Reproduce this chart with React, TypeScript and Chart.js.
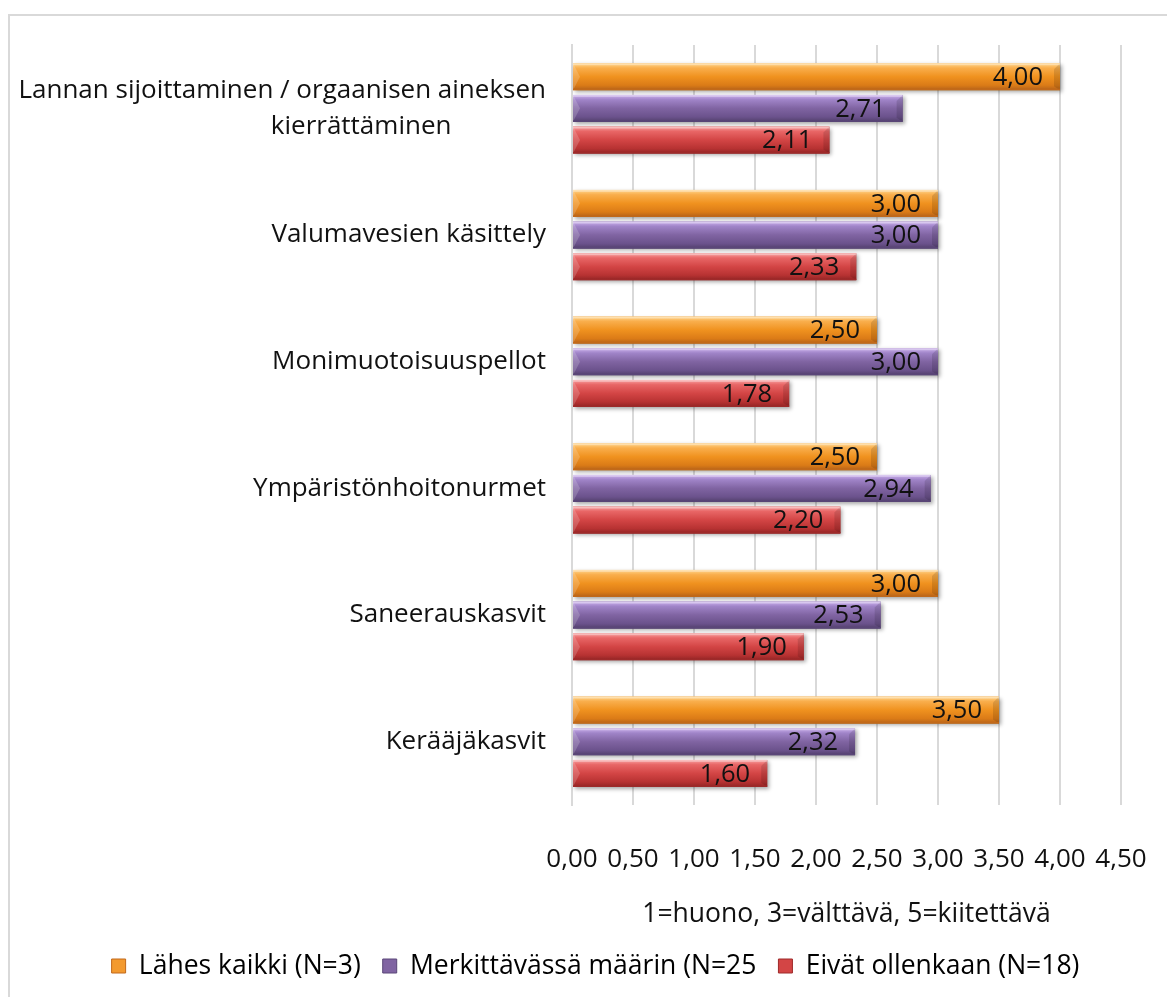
import React, { useEffect, useRef } from 'react';
import { Chart, registerables } from 'chart.js';

Chart.register(...registerables);

const categories: (string | string[])[] = [
  ['Lannan sijoittaminen / orgaanisen aineksen', 'kierrättäminen' + ' '.repeat(14)],
  'Valumavesien käsittely',
  'Monimuotoisuuspellot',
  'Ympäristönhoitonurmet',
  'Saneerauskasvit',
  'Kerääjäkasvit',
];
const seriesNames = ['Lähes kaikki (N=3)', 'Merkittävässä määrin (N=25', 'Eivät ollenkaan (N=18)'];
const lahesKaikki = [4.0, 3.0, 2.5, 2.5, 3.0, 3.5];
const merkittavassa = [2.71, 3.0, 3.0, 2.94, 2.53, 2.32];
const eivatOllenkaan = [2.11, 2.33, 1.78, 2.2, 1.9, 1.6];
const xMin = 0;
const xMax = 4.5;
const xStep = 0.5;
const axisTitle = '1=huono, 3=välttävä, 5=kiitettävä';

const FONT = "'Open Sans', 'Noto Sans', sans-serif";

const palettes = [
  { base: '#F39A2F', stops: ['#FFD790', '#F9AE4C', '#F0921F', '#DB7B17', '#B5631A'], edge: '#C2691A' },
  { base: '#8064A2', stops: ['#CDB2EE', '#A084C8', '#8064A2', '#6B528C', '#52406C'], edge: '#5A4678' },
  { base: '#D34545', stops: ['#F8A3A3', '#E86666', '#D34545', '#B73232', '#922525'], edge: '#9E2A2A' },
];

const fmt = (v: number) => v.toFixed(2).replace('.', ',');

const legendShiftPlugin = {
  id: 'legendShift',
  afterLayout(chart: any) {
    const lg = chart.legend;
    if (lg) {
      lg.left += 35;
      lg.right += 35;
    }
  },
};

const bevelPlugin = {
  id: 'bevelBars',
  afterDatasetsDraw(chart: any) {
    const ctx = chart.ctx;
    chart.data.datasets.forEach((ds: any, di: number) => {
      const meta = chart.getDatasetMeta(di);
      const pal = palettes[di];
      meta.data.forEach((el: any) => {
        const left = Math.min(el.base, el.x);
        const right = Math.max(el.base, el.x);
        const h = el.height;
        const top = el.y - h / 2;
        const bottom = el.y + h / 2;
        const w = right - left;
        ctx.save();
        ctx.shadowColor = 'rgba(0,0,0,0.35)';
        ctx.shadowBlur = 4;
        ctx.shadowOffsetX = 2;
        ctx.shadowOffsetY = 2;
        const g = ctx.createLinearGradient(0, top, 0, bottom);
        g.addColorStop(0, pal.stops[0]);
        g.addColorStop(0.18, pal.stops[1]);
        g.addColorStop(0.5, pal.stops[2]);
        g.addColorStop(0.82, pal.stops[3]);
        g.addColorStop(1, pal.stops[4]);
        ctx.fillStyle = g;
        ctx.fillRect(left, top, w, h);
        ctx.restore();
        ctx.save();
        ctx.fillStyle = 'rgba(255,255,255,0.18)';
        ctx.beginPath();
        ctx.moveTo(left, top);
        ctx.lineTo(left + 7, el.y);
        ctx.lineTo(left, bottom);
        ctx.closePath();
        ctx.fill();
        ctx.fillStyle = 'rgba(0,0,0,0.12)';
        ctx.beginPath();
        ctx.moveTo(right, top);
        ctx.lineTo(right, bottom);
        ctx.lineTo(right - 6, bottom - 4);
        ctx.lineTo(right - 6, top + 6);
        ctx.closePath();
        ctx.fill();
        ctx.fillStyle = 'rgba(255,255,255,0.35)';
        ctx.fillRect(left, top, w, 2);
        ctx.fillStyle = pal.edge;
        ctx.fillRect(left, bottom - 1.5, w, 1.5);
        ctx.restore();
      });
    });
    ctx.save();
    ctx.font = `25.5px ${FONT}`;
    ctx.fillStyle = '#111';
    ctx.textAlign = 'right';
    ctx.textBaseline = 'middle';
    chart.data.datasets.forEach((ds: any, di: number) => {
      const meta = chart.getDatasetMeta(di);
      meta.data.forEach((el: any, i: number) => {
        ctx.fillText(fmt(ds.data[i]), el.x - 17, el.y + 1);
      });
    });
    ctx.restore();
  },
};

export default function App() {
  const ref = useRef<HTMLCanvasElement | null>(null);
  useEffect(() => {
    if (!ref.current) return;
    const seriesData = [lahesKaikki, merkittavassa, eivatOllenkaan];
    const chart = new Chart(ref.current, {
      type: 'bar',
      data: {
        labels: categories,
        datasets: seriesNames.map((name, i) => ({
          label: name,
          data: seriesData[i],
          backgroundColor: palettes[i].base,
          borderWidth: 0,
          barPercentage: 0.85,
          categoryPercentage: 0.75,
        })),
      },
      options: {
        indexAxis: 'y',
        responsive: false,
        animation: false,
        devicePixelRatio: 1,
        layout: { padding: { left: 0, right: 46, top: 45, bottom: 7.75 } },
        plugins: {
          tooltip: { enabled: false },
          legend: {
            position: 'bottom',
            labels: {
              font: { family: FONT, size: 26.5 },
              color: '#111',
              boxWidth: 14,
              boxHeight: 14,
              padding: 22,
              generateLabels: (chart: any) =>
                chart.data.datasets.map((ds: any, i: number) => ({
                  text: ds.label,
                  fillStyle: palettes[i].base,
                  strokeStyle: palettes[i].edge,
                  lineWidth: 1,
                  hidden: false,
                  datasetIndex: i,
                })),
            },
          },
        },
        scales: {
          x: {
            type: 'linear',
            min: xMin,
            max: xMax,
            afterFit: (s: any) => {
              s.height = 125.75;
            },
            ticks: {
              stepSize: xStep,
              padding: 0,
              color: '#111',
              font: { family: FONT, size: 26 },
              callback: (v: any) => fmt(Number(v)),
            },
            grid: { color: '#d9d9d9', lineWidth: 2, drawTicks: true, tickLength: 39, tickColor: 'rgba(0,0,0,0)' },
            border: { display: false },
            title: {
              display: true,
              text: axisTitle,
              color: '#111',
              font: { family: FONT, size: 26.5 },
              padding: { top: 0, bottom: 0 },
            },
          },
          y: {
            afterFit: (s: any) => {
              s.width = 572;
            },
            ticks: {
              padding: 26,
              color: '#111',
              font: { family: FONT, size: 26, lineHeight: 1.4 },
            },
            grid: { display: false, drawTicks: false },
            border: { display: true, color: '#d9d9d9', width: 2 },
          },
        },
      },
      plugins: [bevelPlugin, legendShiftPlugin],
    } as any);
    return () => chart.destroy();
  }, []);

  return (
    <div style={{ position: 'fixed', left: 0, top: 0, width: 1167, height: 997, overflow: 'hidden', background: '#fff' }}>
      <div
        style={{
          position: 'absolute',
          left: 8,
          top: 14,
          width: 1200,
          height: 1100,
          border: '2px solid #d9d9d9',
          boxSizing: 'border-box',
        }}
      />
      <canvas ref={ref} width={1167} height={997} style={{ position: 'absolute', left: 0, top: 0 }} />
    </div>
  );
}
